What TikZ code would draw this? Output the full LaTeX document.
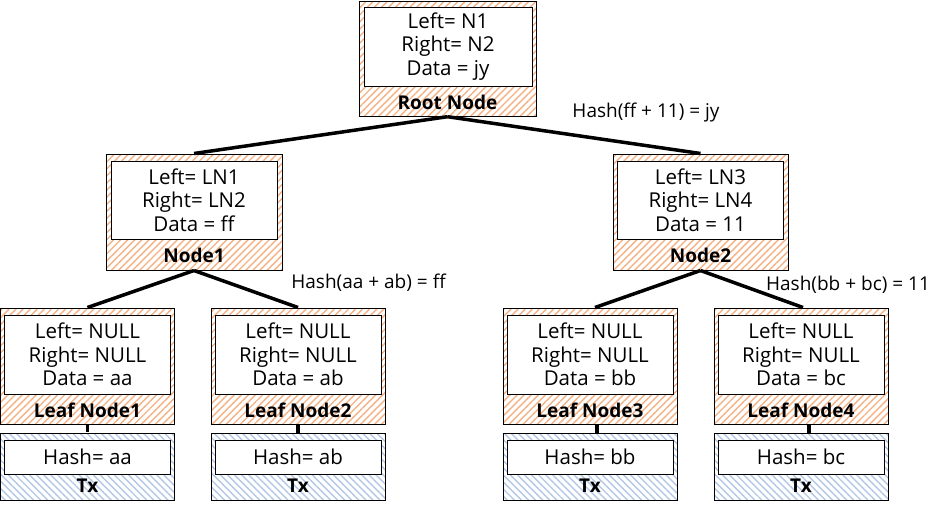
\documentclass[tikz,border=0pt]{standalone}
\usepackage{fontspec}
\setmainfont{Open Sans}
\usetikzlibrary{patterns.meta}
\definecolor{hatchorange}{HTML}{F4B183}
\definecolor{hatchblue}{HTML}{B4C7E7}
\begin{document}
\begin{tikzpicture}[x=1pt,y=-1pt,
    nodebox/.style={draw,line width=1pt,inner sep=0pt,minimum width=176pt,minimum height=116pt,
        pattern={Lines[angle=45,distance=5pt,line width=1.4pt]},pattern color=hatchorange},
    txbox/.style={draw,line width=1pt,inner sep=0pt,minimum width=174pt,minimum height=67pt,
        pattern={Lines[angle=-45,distance=5pt,line width=1.4pt]},pattern color=hatchblue},
    databox/.style={draw,fill=white,line width=1pt,inner sep=0pt,minimum width=166pt,minimum height=79pt,
        align=center,font=\fontsize{20.5}{23.5}\selectfont},
    hashbox/.style={draw,fill=white,line width=1pt,inner sep=0pt,minimum width=166pt,minimum height=34pt,
        font=\fontsize{20.5}{23.5}\selectfont},
    title/.style={font=\fontsize{19}{20}\selectfont\bfseries,inner sep=0pt},
    hashlabel/.style={font=\fontsize{19}{20}\selectfont,inner sep=0pt},
    edge/.style={line width=3.5pt}]
        \useasboundingbox(0,0)rectangle(942,509);
        % tree nodes
        \node[nodebox,minimum width=177pt,minimum height=115pt](root)at(447.5,58.5){};
        \node[databox,minimum width=168pt](rootd)at(448,46.5){Left= N1\\Right= N2\\Data = jy};
        \node[title](roott)at(447.5,102){Root Node};
        \node[nodebox](n1)at(194,212){};
        \node[databox,minimum height=78pt](n1d)at(194,200){Left= LN1\\Right= LN2\\Data = ff};
        \node[title](n1t)at(194,255){Node1};
        \node[nodebox,minimum width=175pt](n2)at(700.5,212){};
        \node[databox,minimum height=78pt](n2d)at(700.5,200){Left= LN3\\Right= LN4\\Data = 11};
        \node[title](n2t)at(700.5,255){Node2};
        % leaves and transactions
        \foreach \i/\x/\d in {1/87.5/aa,2/298/ab,3/590/bb,4/801/bc}{
            \node[nodebox,minimum width=174pt](l\i)at(\x,366){};
            \node[databox](l\i d)at(\x,354.5){Left= NULL\\Right= NULL\\Data = \d};
            \node[title](l\i t)at(\x,410){Leaf Node\i};
            \node[txbox](t\i)at(\x,466.5){};
            \node[hashbox](t\i d)at(\x,457){Hash= \d};
            \node[title](t\i t)at(\x,486){Tx};
        }
        \draw[edge](root.south)--(n1.north);
        \draw[edge](root.south)--(n2.north);
        \draw[edge](n1.south)--(l1.north);
        \draw[edge](n1.south)--(l2.north);
        \draw[edge](n2.south)--([xshift=5pt]l3.north);
        \draw[edge](n2.south)--([xshift=2pt]l4.north);
        \draw[line width=3.5pt](l1.south)--(t1.north);
        \draw[line width=3.5pt](l2.south)--(t2.north);
        \draw[line width=3.5pt]([xshift=7pt]l3.south)--([xshift=7pt]t3.north);
        \draw[line width=3.5pt]([xshift=8pt]l4.south)--([xshift=8pt]t4.north);
        % hash labels
        \node[hashlabel](h0)at(646,113){Hash(ff + 11) = jy};
        \node[hashlabel](h1)at(368.5,283){Hash(aa + ab) = ff};
        \node[hashlabel](h2)at(848,285){Hash(bb + bc) = 11};
    \end{tikzpicture}
\end{document}
